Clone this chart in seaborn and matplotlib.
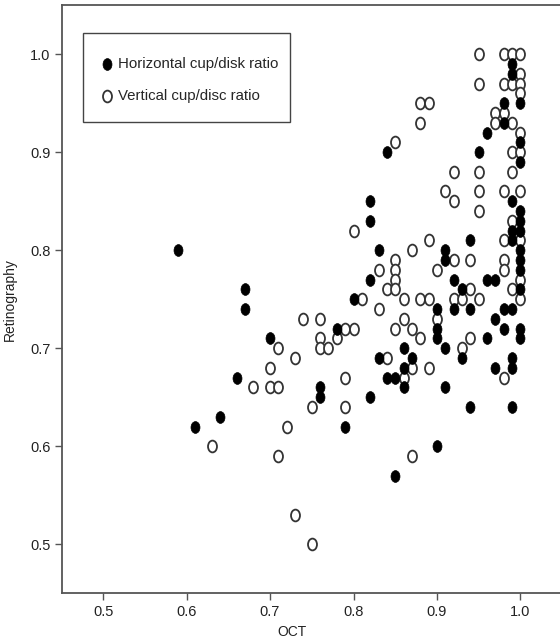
import matplotlib
matplotlib.use("Agg")
import matplotlib.pyplot as plt
from matplotlib.path import Path
from matplotlib.patches import Rectangle
from matplotlib.transforms import Affine2D
import seaborn as sns
import pandas as pd

# horizontal cup/disk ratio (filled markers)
horiz_oct = [0.59, 0.61, 0.64, 0.66, 0.67, 0.67, 0.70, 0.76, 0.76, 0.78,
             0.79, 0.80, 0.82, 0.82, 0.82, 0.82, 0.83, 0.83, 0.84, 0.84,
             0.85, 0.85, 0.86, 0.86, 0.86, 0.87, 0.90, 0.90, 0.90, 0.90,
             0.91, 0.91, 0.91, 0.91, 0.92, 0.92, 0.93, 0.93, 0.94, 0.94,
             0.94, 0.95, 0.96, 0.96, 0.96, 0.97, 0.97, 0.97, 0.98, 0.98,
             0.98, 0.98, 0.99, 0.99, 0.99, 0.99, 0.99, 0.99, 0.99, 0.99,
             0.99, 1.00, 1.00, 1.00, 1.00, 1.00, 1.00, 1.00, 1.00, 1.00,
             1.00, 1.00, 1.00]
horiz_ret = [0.80, 0.62, 0.63, 0.67, 0.76, 0.74, 0.71, 0.66, 0.65, 0.72,
             0.62, 0.75, 0.85, 0.83, 0.77, 0.65, 0.80, 0.69, 0.90, 0.67,
             0.67, 0.57, 0.70, 0.68, 0.66, 0.69, 0.74, 0.72, 0.71, 0.60,
             0.80, 0.79, 0.70, 0.66, 0.77, 0.74, 0.76, 0.69, 0.81, 0.74,
             0.64, 0.90, 0.92, 0.77, 0.71, 0.77, 0.73, 0.68, 0.95, 0.93,
             0.74, 0.72, 0.99, 0.98, 0.85, 0.82, 0.81, 0.74, 0.69, 0.68,
             0.64, 0.95, 0.91, 0.89, 0.84, 0.83, 0.82, 0.80, 0.79, 0.78,
             0.76, 0.72, 0.71]

# vertical cup/disc ratio (open markers)
vert_oct = [0.63, 0.68, 0.70, 0.70, 0.71, 0.71, 0.71, 0.72, 0.73, 0.73,
            0.74, 0.75, 0.75, 0.76, 0.76, 0.76, 0.77, 0.78, 0.79, 0.79,
            0.79, 0.80, 0.80, 0.81, 0.83, 0.83, 0.84, 0.84, 0.85, 0.85,
            0.85, 0.85, 0.85, 0.85, 0.86, 0.86, 0.86, 0.87, 0.87, 0.87,
            0.87, 0.88, 0.88, 0.88, 0.88, 0.89, 0.89, 0.89, 0.89, 0.90,
            0.90, 0.91, 0.92, 0.92, 0.92, 0.92, 0.93, 0.93, 0.94, 0.94,
            0.94, 0.95, 0.95, 0.95, 0.95, 0.95, 0.95, 0.97, 0.97, 0.98,
            0.98, 0.98, 0.98, 0.98, 0.98, 0.98, 0.98, 0.99, 0.99, 0.99,
            0.99, 0.99, 0.99, 0.99, 1.00, 1.00, 1.00, 1.00, 1.00, 1.00,
            1.00, 1.00, 1.00, 1.00]
vert_ret = [0.60, 0.66, 0.68, 0.66, 0.70, 0.66, 0.59, 0.62, 0.69, 0.53,
            0.73, 0.64, 0.50, 0.73, 0.71, 0.70, 0.70, 0.71, 0.72, 0.67,
            0.64, 0.82, 0.72, 0.75, 0.78, 0.74, 0.76, 0.69, 0.91, 0.79,
            0.78, 0.77, 0.76, 0.72, 0.75, 0.73, 0.67, 0.80, 0.72, 0.68,
            0.59, 0.95, 0.93, 0.75, 0.71, 0.95, 0.81, 0.75, 0.68, 0.78,
            0.73, 0.86, 0.88, 0.85, 0.79, 0.75, 0.75, 0.70, 0.79, 0.76,
            0.71, 1.00, 0.97, 0.88, 0.86, 0.84, 0.75, 0.94, 0.93, 1.00,
            0.97, 0.94, 0.86, 0.81, 0.79, 0.78, 0.67, 1.00, 0.97, 0.93,
            0.90, 0.88, 0.83, 0.76, 1.00, 0.98, 0.97, 0.96, 0.92, 0.90,
            0.86, 0.81, 0.77, 0.75]

x_ticks = [0.5, 0.6, 0.7, 0.8, 0.9, 1.0]
y_ticks = [0.5, 0.6, 0.7, 0.8, 0.9, 1.0]

df_h = pd.DataFrame({"OCT": horiz_oct, "Retinography": horiz_ret})
df_v = pd.DataFrame({"OCT": vert_oct, "Retinography": vert_ret})

# slightly tall oval marker, like the printed figure
circ = Path.unit_circle()
oval = Path(Affine2D().scale(0.76, 1.0).transform(circ.vertices), circ.codes)

sns.set_style("ticks")
plt.rcParams["font.family"] = ["Liberation Sans", "DejaVu Sans"]

W, H = 560, 644
fig = plt.figure(figsize=(W / 100, H / 100), dpi=100)
ax = fig.add_axes([0.111, 0.079, 0.893, 0.913])

sns.scatterplot(data=df_v, x="OCT", y="Retinography", ax=ax, s=72,
                marker=oval, facecolor="white", edgecolor="#333333",
                linewidth=1.3, label="Vertical cup/disc ratio", zorder=2)
sns.scatterplot(data=df_h, x="OCT", y="Retinography", ax=ax, s=72,
                marker=oval, color="black", edgecolor="black", linewidth=0.5,
                label="Horizontal cup/disk ratio", zorder=3)

ax.set_xlim(0.451, 1.05)
ax.set_ylim(0.45, 1.05)
ax.set_xticks(x_ticks)
ax.set_yticks(y_ticks)
ax.set_xticklabels([f"{t:.1f}" for t in x_ticks])
ax.set_yticklabels([f"{t:.1f}" for t in y_ticks])
ax.tick_params(direction="out", length=5, width=1, colors="#555555",
               labelcolor="#222222", labelsize=10.5)
for side in ["left", "bottom", "top", "right"]:
    ax.spines[side].set_color("#555555")
    ax.spines[side].set_linewidth(1.3)

ax.set_xlabel("OCT", fontsize=10, color="#222222")
ax.xaxis.set_label_coords(0.46, -0.055)
ax.set_ylabel("Retinography", fontsize=10, color="#222222")
ax.yaxis.set_label_coords(-0.09, 0.5)

# legend entries without frame, box drawn separately
handles, labels = ax.get_legend_handles_labels()
leg = ax.legend(handles[::-1], labels[::-1], loc="upper left",
                bbox_to_anchor=(101 / W, 1 - 57 / H),
                bbox_transform=fig.transFigure, frameon=False,
                fontsize=10.8, handletextpad=0.33, borderpad=0,
                labelspacing=1.18, markerscale=1.0, handlelength=0.8,
                borderaxespad=0)
box = Rectangle((83 / W, 1 - 122 / H), 207 / W, 89 / H,
                transform=fig.transFigure, facecolor="white",
                edgecolor="#444444", linewidth=1.0, zorder=4)
ax.add_patch(box)
leg.set_zorder(5)

fig.savefig("out.png", dpi=100)
